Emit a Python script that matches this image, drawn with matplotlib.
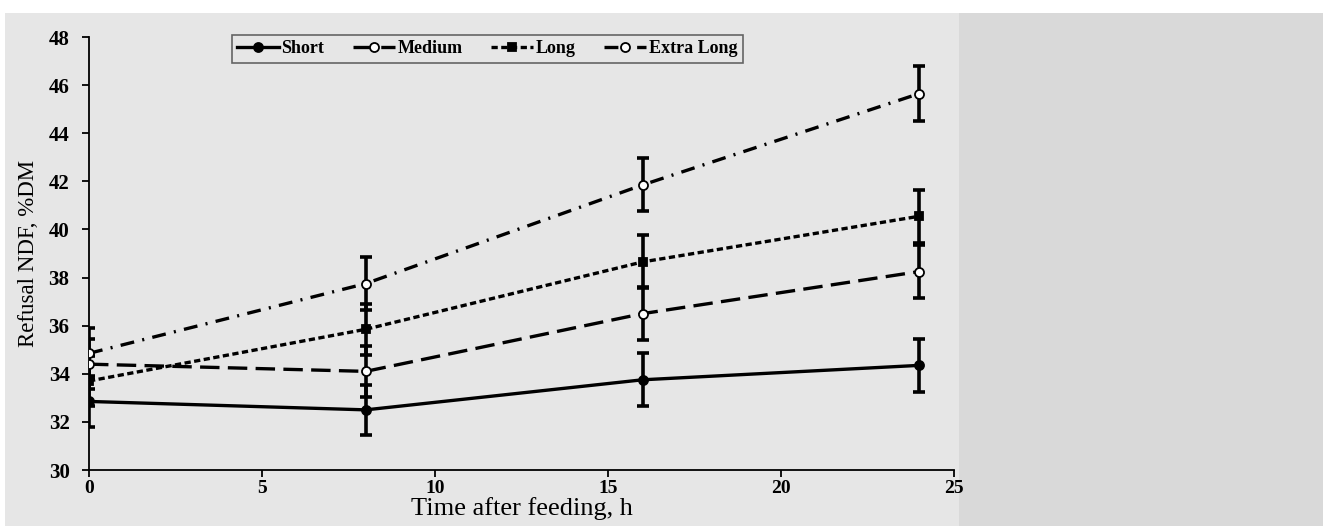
import matplotlib
matplotlib.use("Agg")
import matplotlib.pyplot as plt
import matplotlib.patches as patches

# data
hours = [0, 8, 16, 24]
short = [32.85, 32.5, 33.75, 34.35]
medium = [34.4, 34.1, 36.5, 38.25]
long_ = [33.7, 35.85, 38.65, 40.55]
extra_long = [34.85, 37.75, 41.85, 45.65]
err_short = [1.05, 1.05, 1.1, 1.1]
err_medium = [1.05, 1.05, 1.1, 1.1]
err_long = [1.05, 1.05, 1.1, 1.1]
err_extra = [1.05, 1.1, 1.1, 1.15]
series_names = ["Short", "Medium", "Long", "Extra Long"]

plt.rcParams['font.family'] = ['Liberation Serif', 'DejaVu Serif']
plt.rcParams['lines.scale_dashes'] = False

W, H = 1323, 526
fig = plt.figure(figsize=(W / 100, H / 100), dpi=100, facecolor='#d9d9d9')

# background panels (white strip on top/left, light gray chart area)
bg = [
    ((0, 1 - 13 / H), 1, 13 / H, 'white'),
    ((0, 0), 5 / W, 1, 'white'),
    ((5 / W, 0), 954 / W, 1 - 13 / H, '#e6e6e6'),
]
for xy, w, h, c in bg:
    fig.add_artist(patches.Rectangle(xy, w, h, transform=fig.transFigure,
                                     facecolor=c, edgecolor='none', zorder=-10))

ax = fig.add_axes([89 / W, 1 - 470 / H, (954 - 89) / W, (470 - 37) / H])
ax.set_facecolor('none')
ax.set_zorder(5)

styles = [
    (short, err_short, '-', 'o', 'black'),
    (medium, err_medium, (0, (14, 6)), 'o', 'white'),
    (long_, err_long, (0, (4.5, 2.5)), 's', 'black'),
    (extra_long, err_extra, (0, (10, 6, 1.5, 6)), 'o', 'white'),
]

for (vals, errs, ls, mk, mfc), name in zip(styles, series_names):
    ax.errorbar(hours, vals, yerr=errs, fmt='none', ecolor='black', elinewidth=2.6,
                capsize=4, capthick=2.6, zorder=2)
    ax.plot(hours, vals, linestyle=ls, color='black', linewidth=2.4, marker=mk,
            markersize=6.5 if mk == 'o' else 5.5, markerfacecolor=mfc,
            markeredgecolor='black', markeredgewidth=1.3, label=name, zorder=3)

ax.set_xlim(0, 25)
ax.set_ylim(30, 48)
ax.set_xticks([0, 5, 10, 15, 20, 25])
ax.set_yticks(range(30, 49, 2))

for side in ['top', 'right']:
    ax.spines[side].set_visible(False)
for side in ['left', 'bottom']:
    ax.spines[side].set_linewidth(1.3)
ax.tick_params(axis='both', direction='out', length=5, width=1.3, labelsize=15)
ax.tick_params(axis='y', pad=9)
ax.tick_params(axis='x', pad=2, labelsize=14)
for lab in ax.get_xticklabels() + ax.get_yticklabels():
    lab.set_fontweight('bold')

ax.set_xlabel('Time after feeding, h', fontsize=19, labelpad=0)
ax.set_ylabel('Refusal NDF, %DM', fontsize=16.5, labelpad=7)

leg = ax.legend(loc='upper left', bbox_to_anchor=(0.165, 1.005), ncol=4, frameon=True,
                fancybox=False, edgecolor='#444444', facecolor='#e6e6e6',
                prop={'weight': 'bold', 'size': 13}, handlelength=2.3,
                handletextpad=0.15, columnspacing=1.6, borderpad=0.3,
                borderaxespad=0)
leg.get_frame().set_linewidth(1.2)

fig.savefig('out.png', dpi=100, facecolor=fig.get_facecolor())
